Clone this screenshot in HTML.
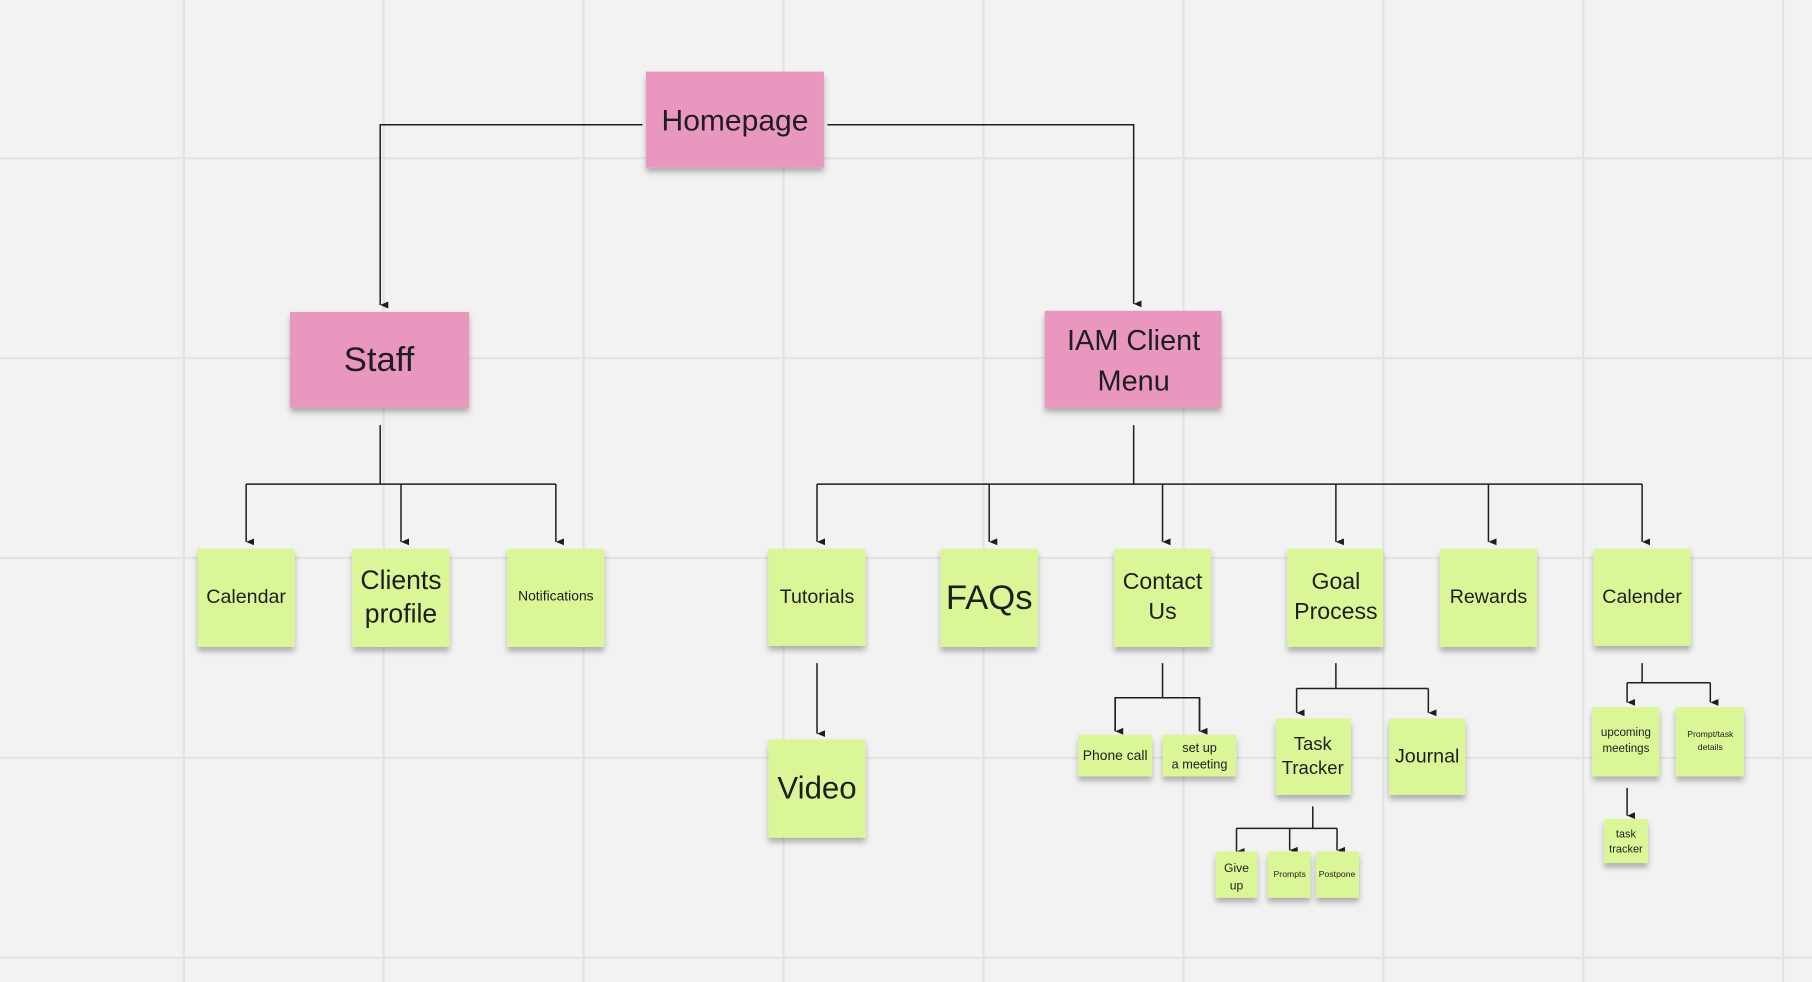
<!DOCTYPE html>
<html><head><meta charset="utf-8"><style>
html,body{margin:0;padding:0;background:#f2f2f2;overflow:hidden}
svg{display:block}
text{font-family:"Liberation Sans",sans-serif;fill:#1e1e1e;text-anchor:middle}
</style></head><body>
<svg width="1812" height="982" viewBox="0 0 1568 850" preserveAspectRatio="none" xmlns="http://www.w3.org/2000/svg">
<defs>
<marker id="a" markerWidth="8" markerHeight="8" refX="4" refY="7" orient="auto" markerUnits="userSpaceOnUse">
<path d="M1,0 L4,7 L7,0 Z" fill="#1e1e1e"/></marker>
<filter id="sh" x="-20%" y="-20%" width="140%" height="150%"><feDropShadow dx="0" dy="4" stdDeviation="2.5" flood-color="#000" flood-opacity="0.28"/></filter>
</defs>
<rect width="1568" height="850" fill="#f2f2f2"/>
<g stroke="#e3e3e3" stroke-width="2">
<line x1="159" y1="0" x2="159" y2="850"/><line x1="332" y1="0" x2="332" y2="850"/><line x1="505" y1="0" x2="505" y2="850"/><line x1="678" y1="0" x2="678" y2="850"/><line x1="851" y1="0" x2="851" y2="850"/><line x1="1024" y1="0" x2="1024" y2="850"/><line x1="1197" y1="0" x2="1197" y2="850"/><line x1="1370" y1="0" x2="1370" y2="850"/><line x1="1543" y1="0" x2="1543" y2="850"/>
<line x1="0" y1="137" x2="1568" y2="137"/><line x1="0" y1="310" x2="1568" y2="310"/><line x1="0" y1="483" x2="1568" y2="483"/><line x1="0" y1="656" x2="1568" y2="656"/><line x1="0" y1="829" x2="1568" y2="829"/>
</g>
<g stroke="#1e1e1e" stroke-width="1.3" fill="none">
<polyline points="556,108 329,108 329,264" marker-end="url(#a)"/>
<polyline points="716,108 981,108 981,263" marker-end="url(#a)"/>
<line x1="329" y1="368" x2="329" y2="419"/><line x1="213" y1="419" x2="481" y2="419"/>
<line x1="213" y1="419" x2="213" y2="469" marker-end="url(#a)"/><line x1="347" y1="419" x2="347" y2="469" marker-end="url(#a)"/><line x1="481" y1="419" x2="481" y2="469" marker-end="url(#a)"/>
<line x1="981" y1="368" x2="981" y2="419"/><line x1="707" y1="419" x2="1421" y2="419"/>
<line x1="707" y1="419" x2="707" y2="469" marker-end="url(#a)"/><line x1="856" y1="419" x2="856" y2="469" marker-end="url(#a)"/><line x1="1006" y1="419" x2="1006" y2="469" marker-end="url(#a)"/><line x1="1156" y1="419" x2="1156" y2="469" marker-end="url(#a)"/><line x1="1288" y1="419" x2="1288" y2="469" marker-end="url(#a)"/><line x1="1421" y1="419" x2="1421" y2="469" marker-end="url(#a)"/>
<line x1="707" y1="574" x2="707" y2="635" marker-end="url(#a)"/>
<line x1="1006" y1="574" x2="1006" y2="604"/><polyline points="965,633 965,604 1038,604 1038,633"/>
<line x1="965" y1="604" x2="965" y2="633" marker-end="url(#a)"/><line x1="1038" y1="604" x2="1038" y2="633" marker-end="url(#a)"/>
<line x1="1156" y1="574" x2="1156" y2="596"/><line x1="1122" y1="596" x2="1236" y2="596"/>
<line x1="1122" y1="596" x2="1122" y2="617" marker-end="url(#a)"/><line x1="1236" y1="596" x2="1236" y2="617" marker-end="url(#a)"/>
<line x1="1136" y1="698" x2="1136" y2="717"/><line x1="1070" y1="717" x2="1157" y2="717"/>
<line x1="1070" y1="717" x2="1070" y2="737" marker-end="url(#a)"/><line x1="1116" y1="717" x2="1116" y2="736" marker-end="url(#a)"/><line x1="1157" y1="717" x2="1157" y2="736" marker-end="url(#a)"/>
<line x1="1421" y1="574" x2="1421" y2="591"/><line x1="1408" y1="591" x2="1480" y2="591"/>
<line x1="1408" y1="591" x2="1408" y2="608" marker-end="url(#a)"/><line x1="1480" y1="591" x2="1480" y2="608" marker-end="url(#a)"/>
<line x1="1408" y1="682" x2="1408" y2="706" marker-end="url(#a)"/>
</g>
<g filter="url(#sh)" fill="#ea97c0">
<rect x="559" y="62" width="154" height="83"/><rect x="251" y="270" width="155" height="83"/><rect x="904" y="269" width="153" height="84"/>
</g>
<g filter="url(#sh)" fill="#dbf697">
<rect x="171" y="475" width="84" height="85"/><rect x="305" y="475" width="84" height="85"/><rect x="439" y="475" width="84" height="85"/>
<rect x="665" y="475" width="84" height="84"/><rect x="814" y="475" width="84" height="85"/><rect x="964" y="475" width="84" height="85"/><rect x="1114" y="475" width="83" height="85"/><rect x="1246" y="475" width="84" height="85"/><rect x="1379" y="475" width="84" height="84"/>
<rect x="665" y="640" width="84" height="85"/>
<rect x="933" y="636" width="64" height="36"/><rect x="1006" y="636" width="64" height="36"/>
<rect x="1104" y="622" width="65" height="66"/><rect x="1202" y="622" width="66" height="66"/>
<rect x="1052" y="737" width="36" height="40"/><rect x="1097" y="737" width="37" height="40"/><rect x="1139" y="737" width="37" height="40"/>
<rect x="1378" y="612" width="58" height="60"/><rect x="1450" y="612" width="59" height="60"/>
<rect x="1388" y="709" width="38" height="38"/>
</g>
<text x="636" y="113" font-size="26">Homepage</text>
<text x="328" y="321" font-size="30">Staff</text>
<text x="981" y="303" font-size="25">IAM Client</text><text x="981" y="338" font-size="25">Menu</text>
<text x="213" y="522" font-size="17">Calendar</text>
<text x="347" y="510" font-size="23">Clients</text><text x="347" y="539" font-size="23">profile</text>
<text x="481" y="520" font-size="12">Notifications</text>
<text x="707" y="522" font-size="17">Tutorials</text>
<text x="856" y="527" font-size="30">FAQs</text>
<text x="1006" y="510" font-size="20">Contact</text><text x="1006" y="536" font-size="20">Us</text>
<text x="1156" y="510" font-size="20">Goal</text><text x="1156" y="536" font-size="20">Process</text>
<text x="1288" y="522" font-size="17">Rewards</text>
<text x="1421" y="522" font-size="17">Calender</text>
<text x="707" y="691" font-size="27">Video</text>
<text x="965" y="658" font-size="12">Phone call</text>
<text x="1038" y="651" font-size="11">set up</text><text x="1038" y="665" font-size="11">a meeting</text>
<text x="1136" y="649" font-size="16">Task</text><text x="1136" y="670" font-size="16">Tracker</text>
<text x="1235" y="660" font-size="17">Journal</text>
<text x="1070" y="755" font-size="10.5">Give</text><text x="1070" y="770" font-size="10.5">up</text>
<text x="1116" y="759" font-size="7.5">Prompts</text>
<text x="1157" y="759" font-size="7.5">Postpone</text>
<text x="1407" y="637" font-size="10">upcoming</text><text x="1407" y="651" font-size="10">meetings</text>
<text x="1480" y="638" font-size="7.5">Prompt/task</text><text x="1480" y="649" font-size="7.5">details</text>
<text x="1407" y="725" font-size="9.5">task</text><text x="1407" y="738" font-size="9.5">tracker</text>
</svg>
</body></html>
